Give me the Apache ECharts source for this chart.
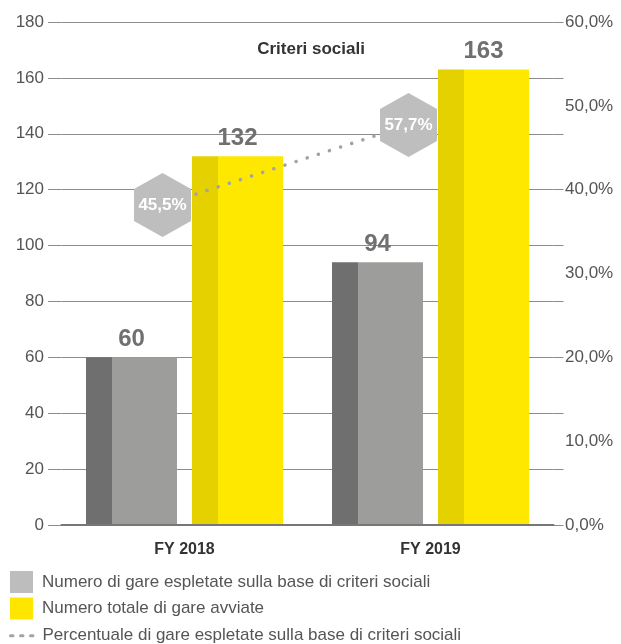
<!DOCTYPE html>
<html>
<head>
<meta charset="utf-8">
<script src="https://cdn.jsdelivr.net/npm/echarts@6/dist/echarts.min.js"></script>
<style>
html,body{margin:0;padding:0;background:#fff;}
#chart{width:621px;height:644px;}
</style>
</head>
<body>
<div id="chart"></div>
<script>
const categories = ['FY 2018', 'FY 2019'];
const socialTenders = [60, 94];
const totalTenders = [132, 163];
const socialShare = [45.5, 57.7];
const seriesNames = [
  'Numero di gare espletate sulla base di criteri sociali',
  'Numero totale di gare avviate',
  'Percentuale di gare espletate sulla base di criteri sociali'
];
const chartTitle = 'Criteri sociali';
const leftAxis = { min: 0, max: 180, interval: 20 };
const rightAxis = { min: 0, max: 60, interval: 10 };

const FONT = '"Liberation Sans", Arial, Helvetica, sans-serif';
const chart = echarts.init(document.getElementById('chart'), null, { renderer: 'canvas' });

function split(dark, light, at) {
  return new echarts.graphic.LinearGradient(0, 0, 1, 0, [
    { offset: 0, color: dark }, { offset: at, color: dark },
    { offset: at, color: light }, { offset: 1, color: light }
  ]);
}
const pctFmt = v => v.toFixed(1).replace('.', ',') + '%';
const hexPath = 'path://M0,-1 L0.866,-0.5 L0.866,0.5 L0,1 L-0.866,0.5 L-0.866,-0.5 Z';
const gridCol = '#8c8c8c';
const legendText = {
  formatter: n => '{a|' + n + '}',
  textStyle: { fontFamily: FONT, fontSize: 17, color: '#555555',
    rich: { a: { fontFamily: FONT, fontSize: 17, color: '#555555', padding: [0, 0, 0, 4] } } }
};

const option = {
  animation: false,
  backgroundColor: '#ffffff',
  title: {
    text: chartTitle,
    left: 306, top: 36, textAlign: 'center',
    textStyle: { fontFamily: FONT, fontSize: 17, fontWeight: 'bold', color: '#333333' }
  },
  legend: [
    Object.assign({
      orient: 'vertical', left: 10, top: 571, height: 80, padding: 0,
      itemWidth: 23, itemHeight: 22, itemGap: 4.5, selectedMode: false,
      data: [
        { name: seriesNames[0], icon: 'rect', itemStyle: { color: '#bdbdbd' } },
        { name: seriesNames[1], icon: 'rect', itemStyle: { color: '#ffe600' } }
      ]
    }, legendText),
    Object.assign({
      orient: 'vertical', left: 9, top: 627, height: 40, padding: 0,
      itemWidth: 23, itemHeight: 22, selectedMode: false,
      data: [
        { name: seriesNames[2], itemStyle: { color: 'rgba(0,0,0,0)', borderWidth: 0 },
          lineStyle: { color: '#a3a3a3', width: 3, type: [2.5, 7.5], opacity: 1 } }
      ]
    }, legendText)
  ],
  grid: [
    { left: 61.5, width: 492, top: 22, bottom: 119 },
    { left: 39.5, width: 492, top: 22, bottom: 119 }
  ],
  xAxis: [
    {
      type: 'category', data: categories, gridIndex: 0,
      axisLine: { show: true, lineStyle: { color: '#777777', width: 2 } },
      axisTick: { show: false },
      axisLabel: { margin: 17, fontFamily: FONT, fontSize: 16, fontWeight: 'bold', color: '#333333' },
      z: 10
    },
    { type: 'category', data: categories, gridIndex: 1, show: false }
  ],
  yAxis: [
    {
      type: 'value', gridIndex: 0, position: 'left', ...leftAxis,
      axisLine: { show: false },
      axisTick: { show: true, length: 13.5, lineStyle: { color: gridCol } },
      splitLine: { show: true, lineStyle: { color: gridCol, width: 1 } },
      axisLabel: { margin: 17.5, fontFamily: FONT, fontSize: 17, color: '#555555' }
    },
    {
      type: 'value', gridIndex: 0, position: 'right', ...rightAxis,
      axisLine: { show: false }, axisTick: { show: false }, splitLine: { show: false },
      axisLabel: { margin: 11.5, fontFamily: FONT, fontSize: 17, color: '#555555', formatter: pctFmt }
    },
    {
      type: 'value', gridIndex: 0, position: 'right', ...leftAxis,
      axisLine: { show: false },
      axisTick: { show: true, length: 10, lineStyle: { color: gridCol } },
      splitLine: { show: false }, axisLabel: { show: false }
    },
    { type: 'value', gridIndex: 1, min: -3.3, max: 73.4, show: false }
  ],
  series: [
    {
      name: seriesNames[0], type: 'bar', xAxisIndex: 0, yAxisIndex: 0,
      data: socialTenders, barWidth: 91, barGap: '16.5%',
      itemStyle: { color: split('#6f6f6f', '#9d9d9c', 26 / 91) },
      label: { show: true, position: 'top', distance: 6, fontFamily: FONT, fontSize: 24, fontWeight: 'bold', color: '#707070' }
    },
    {
      name: seriesNames[1], type: 'bar', xAxisIndex: 0, yAxisIndex: 0,
      data: totalTenders, barWidth: 91, barGap: '16.5%',
      itemStyle: { color: split('#e5d100', '#ffe800', 26 / 91) },
      label: { show: true, position: 'top', distance: 6, fontFamily: FONT, fontSize: 24, fontWeight: 'bold', color: '#707070' }
    },
    {
      name: seriesNames[2], type: 'line', xAxisIndex: 1, yAxisIndex: 3,
      data: socialShare, z: 5,
      symbol: hexPath, symbolSize: [57, 64], symbolKeepAspect: false,
      itemStyle: { color: '#bebebe' },
      lineStyle: { color: '#a3a3a3', width: 3.5, type: [0.1, 11.6], cap: 'round' },
      label: { show: true, position: 'inside', formatter: p => pctFmt(p.value),
        fontFamily: FONT, fontSize: 17, fontWeight: 'bold', color: '#ffffff' }
    }
  ]
};
chart.setOption(option);
</script>
</body>
</html>
